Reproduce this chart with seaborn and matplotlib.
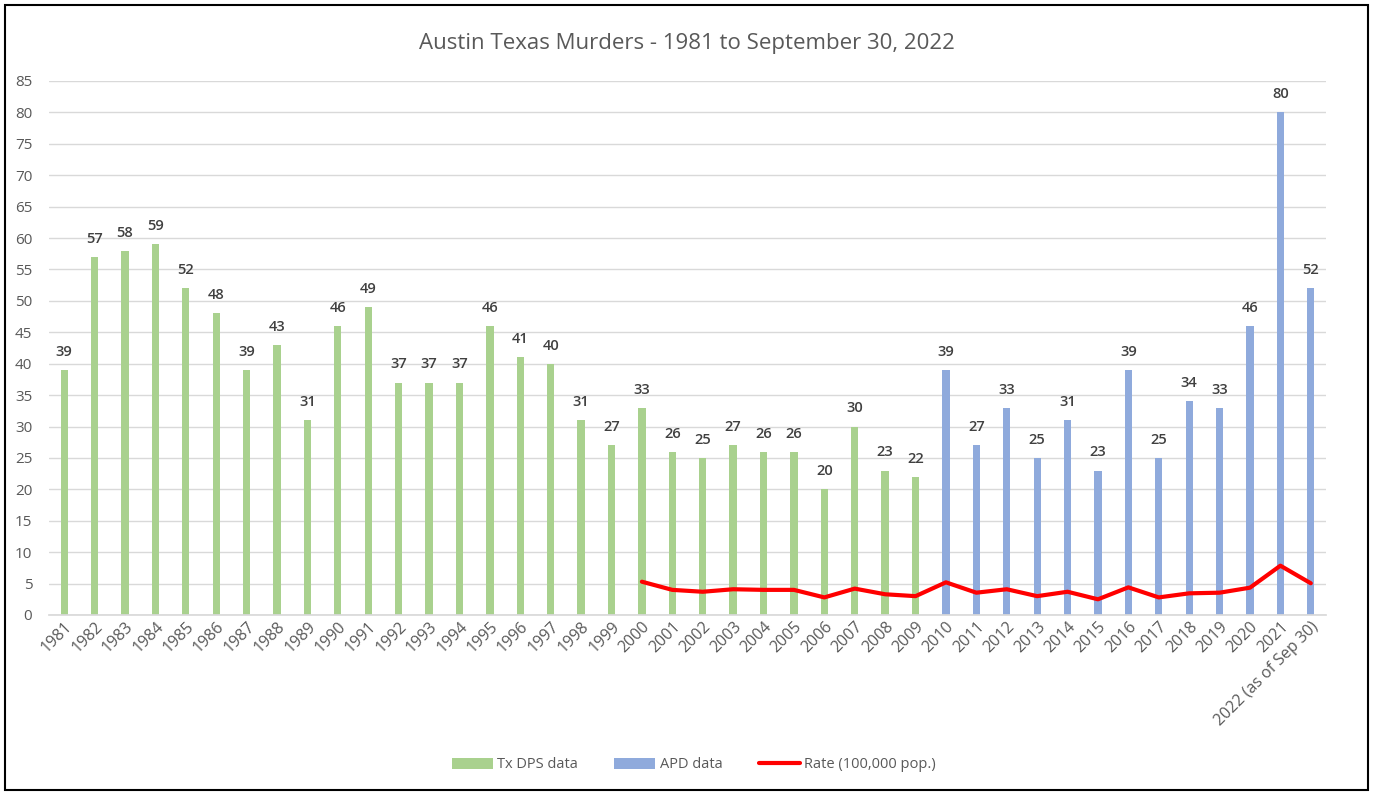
import matplotlib
matplotlib.use("Agg")
import matplotlib.pyplot as plt
import seaborn as sns
import pandas as pd
import numpy as np
from matplotlib.patches import Patch, Rectangle
from matplotlib.lines import Line2D

years = [str(y) for y in range(1981, 2022)] + ["2022 (as of Sep 30)"]
murders = [39, 57, 58, 59, 52, 48, 39, 43, 31, 46, 49, 37, 37, 37, 46, 41, 40, 31, 27, 33,
           26, 25, 27, 26, 26, 20, 30, 23, 22,
           39, 27, 33, 25, 31, 23, 39, 25, 34, 33, 46, 80, 52]
sources = ["Tx DPS data"] * 29 + ["APD data"] * 13
rate_years = [str(y) for y in range(2000, 2022)] + ["2022 (as of Sep 30)"]
rate = [5.3, 4.0, 3.7, 4.1, 4.0, 4.0, 2.8, 4.2, 3.3, 3.0,
        5.2, 3.55, 4.1, 3.0, 3.7, 2.5, 4.4, 2.8, 3.45, 3.55, 4.35, 7.85, 5.05]

GREEN = "#A9D18E"
BLUE = "#8FAADC"
RED = "#FF0000"
TXT = "#595959"

sns.set_theme(style="white")
plt.rcParams['font.family'] = ['Open Sans', 'DejaVu Sans']

df = pd.DataFrame({"year": years, "murders": murders, "source": sources})

fig = plt.figure(figsize=(13.74, 7.98), dpi=100)
ax = fig.add_axes([49/1374, 1-615/798, (1326-49)/1374, (615-81)/798])

sns.barplot(data=df, x="year", y="murders", hue="source", dodge=False, width=0.24,
            palette={"Tx DPS data": GREEN, "APD data": BLUE}, order=years,
            hue_order=["Tx DPS data", "APD data"], ax=ax, legend=False, saturation=1,
            linewidth=0, edgecolor="none")

for c in ax.containers:
    labels = [f"{int(v)}" if not np.isnan(v) and v > 0 else "" for v in c.datavalues]
    ax.bar_label(c, labels=labels, padding=8, fontsize=10.5, color="#404040", fontweight="semibold")

pos = [years.index(y) for y in rate_years]
sns.lineplot(x=pos, y=rate, color=RED, linewidth=3, ax=ax, legend=False)

ax.set_ylim(0, 85)
ax.set_xlim(-0.5, len(years) - 0.5)
ax.set_yticks(range(0, 86, 5))
ax.yaxis.grid(True, color="#D9D9D9", linewidth=1)
ax.set_axisbelow(True)
for s in ["top", "right", "left"]:
    ax.spines[s].set_visible(False)
ax.spines["bottom"].set_color("#D9D9D9")
ax.set_xlabel("")
ax.set_ylabel("")
ax.tick_params(axis="y", length=0, labelsize=11, labelcolor=TXT, pad=12)
ax.tick_params(axis="x", length=0, labelsize=11.5, labelcolor=TXT, pad=3)
ax.set_xticks(range(len(years)))
ax.set_xticklabels(years, rotation=45, ha="right", rotation_mode="anchor")

fig.text(0.5, 1-44/798, "Austin Texas Murders - 1981 to September 30, 2022",
         ha="center", va="center", fontsize=16, color=TXT)

handles = [Patch(facecolor=GREEN, edgecolor="none"),
           Patch(facecolor=BLUE, edgecolor="none"),
           Line2D([0], [0], color=RED, linewidth=3)]
fig.legend(handles, ["Tx DPS data", "APD data", "Rate (100,000 pop.)"],
           loc="center", bbox_to_anchor=(0.505, 1-765/798), ncol=3, frameon=False,
           fontsize=10.5, labelcolor=TXT, handlelength=2.8, handletextpad=0.3,
           columnspacing=2.5)

fig.patches.append(Rectangle((5/1374, 1-790/798), (1368-5)/1374, (790-5)/798,
                             transform=fig.transFigure, fill=False,
                             edgecolor="black", linewidth=1.5))

fig.savefig("out.png", dpi=100)
